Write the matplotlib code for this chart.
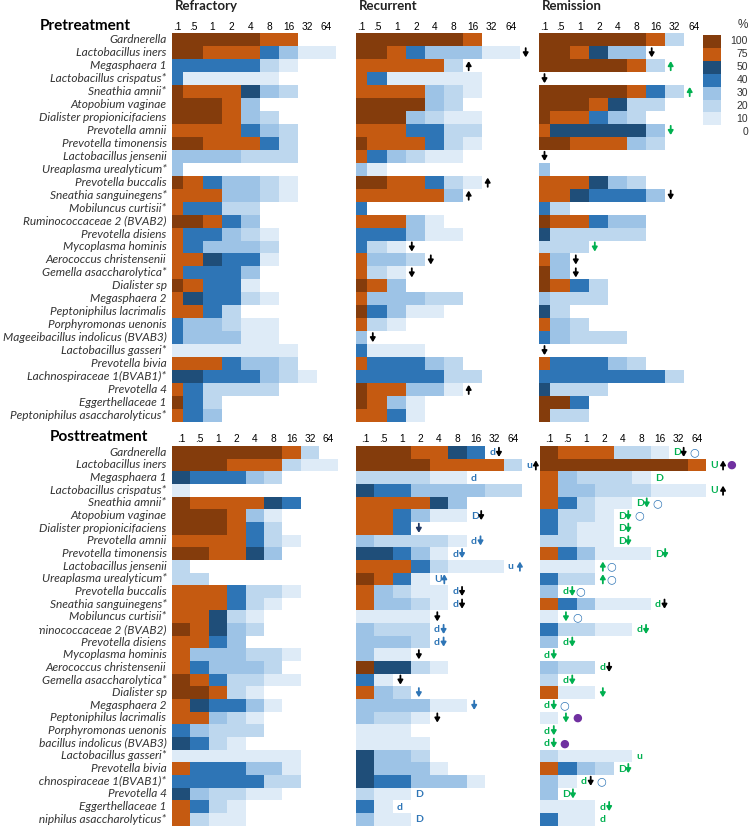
import numpy as np
import matplotlib
matplotlib.use('Agg')
import matplotlib.pyplot as plt
from matplotlib.colors import ListedColormap, BoundaryNorm
from matplotlib.patches import Rectangle

plt.rcParams['font.family'] = ['Lato', 'DejaVu Sans']

taxa = ['Gardnerella', 'Lactobacillus iners', 'Megasphaera 1', 'Lactobacillus crispatus*',
        'Sneathia amnii*', 'Atopobium vaginae', 'Dialister propionicifaciens', 'Prevotella amnii',
        'Prevotella timonensis', 'Lactobacillus jensenii', 'Ureaplasma urealyticum*',
        'Prevotella buccalis', 'Sneathia sanguinegens*', 'Mobiluncus curtisii*',
        'Ruminococcaceae 2 (BVAB2)', 'Prevotella disiens', 'Mycoplasma hominis',
        'Aerococcus christensenii', 'Gemella asaccharolytica*', 'Dialister sp', 'Megasphaera 2',
        'Peptoniphilus lacrimalis', 'Porphyromonas uenonis', 'Mageeibacillus indolicus (BVAB3)',
        'Lactobacillus gasseri*', 'Prevotella bivia', 'Lachnospiraceae 1(BVAB1)*', 'Prevotella 4',
        'Eggerthellaceae 1', 'Peptoniphilus asaccharolyticus*']
bins = ['.1', '.5', '1', '2', '4', '8', '16', '32', '64']
groups = ['Refractory', 'Recurrent', 'Remission']
legend_levels = [100, 75, 50, 40, 30, 20, 10, 0]

# one letter per cell: B=100 O=75 N=50 M=40 3=30 2=20 1=10 0=0 (%)
code_pct = {'B': 100, 'O': 75, 'N': 50, 'M': 40, '3': 30, '2': 20, '1': 10, '0': 0}

pre_refractory = ['BBBBBOO00', 'BBOOOM311', 'MMMMM2100', 'M11111000', 'BOOON3200', 'BBBO30000',
                  'BBBO32000', 'OOOOM3200', 'BBOOOM200', '333322200', '300000000', 'BOM332100',
                  'OOO332100', 'OMM220000', 'BBOM30000', 'OMM321000', 'OM3332000', 'OONMM1000',
                  'OMMM30000', 'BOMM10000', 'ONMM21000', 'OOM200000', 'M33211000', 'M33311000',
                  '111111100', 'OOOM33200', 'NNMMM3210', 'OM2222000', 'BM2000000', 'OM3000000']
pre_recurrent = ['BBBBBBO00', 'BBOM33311', 'OOOOO2000', 'OM1111100', 'OOOO32100', 'BBBB32000',
                 'BBB321100', 'OOOMM2200', 'BOOOM2100', 'OM3211000', '310000000', 'BBOOM2100',
                 'OOOOO3000', 'M00000000', 'OOO310000', 'MMM311000', 'M21000000', 'O33200000',
                 'O21000000', 'BO3000000', 'O33322000', 'BM3110000', 'O21000000', '300000000',
                 'M11100000', 'OMMM32000', 'MMMMM2200', 'BOO331000', 'BO3100000', 'OOM100000']
pre_remission = ['BBBBBBO20', 'BBON33000', 'BBBBBO200', '000000000', 'BBBBBOM20', 'BBBON2200',
                 'BOOM32000', 'ONNNNN300', 'BBOOO3200', '000000000', '300000000', 'OOON32000',
                 'OONMMM300', 'M20000000', 'BOOM33000', 'N22222000', '222000000', 'O30000000',
                 'B30000000', 'BOM200000', '322200000', 'N20000000', 'O32000000', 'M32220000',
                 '000000000', 'OMMM32000', 'MMMMMMM20', 'N22200000', 'BBM000000', 'B22000000']
post_refractory = ['BBBBBBO20', 'BBBOOO211', 'NMMM32000', '100000000', 'BOOOONM00', 'BBBO31000',
                   'BBBOM2000', 'OOOOM2100', 'BBOON3000', '200000000', '220000000', 'OOOM22100',
                   'OOOM21000', 'OON210000', 'BON320000', 'OOM300000', 'O33322100', 'OM3332000',
                   'BOM221100', 'BBO210000', 'ONMM31000', 'OO3210000', 'M32220000', 'NM2100000',
                   '111111100', 'OMMM33100', 'MMMMM2200', 'N32211000', 'OM2100000', 'O21100000']
post_recurrent = ['BBBOONM00', 'BBBBOOOO2', '222211000', 'NMM333322', 'OOOON3000', 'OOM311000',
                  'OOM000000', '322221000', 'NNM310000', 'OOOM21110', 'BOM100000', 'O32110000',
                  'O33210000', '111100000', '322200000', '333200000', '311000000', 'BNN210000',
                  'M10000000', 'O32000000', '333311000', '322100000', '111000000', '111100000',
                  'N33200000', 'N33310000', 'NMM333100', '211000000', 'M10000000', '311000000']
post_remission = ['BOOO22100', 'BBBBBBBBO', 'O32221000', 'O33222111', 'OM2110000', 'M22100000',
                  'M21100000', '221100000', 'OM3111000', '111000000', 'M22000000', '300000000',
                  'OM3111000', '100000000', 'M22110000', '300000000', '000000000', '322000000',
                  '200000000', 'O11000000', '000000000', '100000000', '000000000', '000000000',
                  '211110000', 'OM3200000', '310000000', '300000000', '111000000', 'M11000000']

# marks after the bars: row -> tokens (text, colour key)
pre_refractory_notes = {}
pre_recurrent_notes = {1: [('↓', 'k')], 2: [('↑', 'k')], 11: [('↑', 'k')], 12: [('↑', 'k')],
                       16: [('↓', 'k')], 17: [('↓', 'k')], 18: [('↓', 'k')], 23: [('↓', 'k')],
                       27: [('↑', 'k')]}
pre_remission_notes = {1: [('↓', 'k')], 2: [('↑', 'g')], 3: [('↓', 'k')], 4: [('↑', 'g')],
                       7: [('↓', 'g')], 9: [('↓', 'k')], 12: [('↓', 'k')], 16: [('↓', 'g')],
                       17: [('↓', 'k')], 18: [('↓', 'k')], 24: [('↓', 'k')]}
post_refractory_notes = {}
post_recurrent_notes = {0: [('d', 'b'), ('↓', 'k')], 1: [('u', 'b'), ('↑', 'k')], 2: [('d', 'b')],
                        5: [('D', 'b'), ('↓', 'k')], 6: [('↓', 'n')], 7: [('d', 'b'), ('↓', 'b')],
                        8: [('d', 'b'), ('↓', 'b')], 9: [('u', 'b'), (' ', 'b'), ('↑', 'b')],
                        10: [('U', 'b'), ('↑', 'b')], 11: [('d', 'b'), ('↓', 'k')],
                        12: [('d', 'b'), ('↓', 'k')], 13: [('↓', 'k')], 14: [('d', 'b'), ('↓', 'b')],
                        15: [('d', 'b'), ('↓', 'b')], 16: [('↓', 'k')], 18: [('↓', 'k')],
                        19: [('↓', 'b')], 20: [('↓', 'b')], 21: [('↓', 'k')],
                        27: [('D', 'b')], 28: [('d', 'b')], 29: [('D', 'b')]}
post_remission_notes = {0: [('D', 'g'), ('↓', 'k'), (' ', 'b'), ('○', 'b')],
                        1: [('U', 'g'), (' ', 'b'), ('↑', 'k'), ('●', 'p')],
                        2: [('D', 'g')], 3: [('U', 'g'), (' ', 'b'), ('↑', 'k')],
                        4: [('D', 'g'), ('↓', 'g'), (' ', 'b'), ('○', 'b')],
                        5: [('D', 'g'), ('↓', 'g'), (' ', 'b'), ('○', 'b')],
                        6: [('D', 'g'), ('↓', 'g')], 7: [('D', 'g'), ('↓', 'g')],
                        8: [('D', 'g'), ('↓', 'g')], 9: [('↑', 'g'), ('○', 'b')],
                        10: [('↑', 'g'), ('○', 'b')], 11: [('d', 'g'), ('↓', 'g'), ('○', 'b')],
                        12: [('d', 'g'), ('↓', 'k')], 13: [('↓', 'g'), (' ', 'b'), ('○', 'b')],
                        14: [('d', 'g'), ('↓', 'g')], 15: [('d', 'g'), ('↓', 'g')],
                        16: [('d', 'g'), ('↓', 'g')], 17: [('d', 'g'), ('↓', 'k')],
                        18: [('d', 'g'), ('↓', 'g')], 19: [('↓', 'g')],
                        20: [('d', 'g'), ('↓', 'g'), (' ', 'b'), ('○', 'b')],
                        21: [('↓', 'g'), (' ', 'b'), ('●', 'p')], 22: [('d', 'g'), ('↓', 'g')],
                        23: [('d', 'g'), ('↓', 'g'), (' ', 'b'), ('●', 'p')], 24: [('u', 'g')],
                        25: [('D', 'g'), ('↓', 'g')],
                        26: [('d', 'g'), ('↓', 'k'), (' ', 'b'), ('○', 'b')],
                        27: [('D', 'g'), ('↓', 'g')], 28: [('d', 'g'), ('↓', 'g')], 29: [('d', 'g')]}

note_colors = {'k': 'black', 'g': '#00B050', 'b': '#2E75B6', 'n': '#1F3864', 'p': '#7030A0'}
level_colors = ['#DEEBF7', '#BDD7EE', '#9DC3E6', '#2E75B6', '#1F4E79', '#C55A11', '#843C0C']
cmap = ListedColormap(level_colors)
norm = BoundaryNorm([5, 15, 25, 35, 45, 60, 90, 110], cmap.N)

fig = plt.figure(figsize=(7.5, 8.26), dpi=100)
ax = fig.add_axes([0, 0, 1, 1])
ax.set_xlim(0, 750)
ax.set_ylim(826, 0)
ax.axis('off')

sym_adv = {'↑': 7, '↓': 7, '○': 10, '●': 9}
arrow_style = '-|>,head_length=0.5,head_width=0.3'


def draw_group(rows, notes, x0, widths, y0, rh, tick_y, gap):
    vals = np.array([[code_pct[c] for c in r] for r in rows], dtype=float)
    xe = x0 + np.concatenate([[0], np.cumsum(widths)])
    ye = y0 + np.arange(len(rows) + 1) * rh
    ax.pcolormesh(xe, ye, np.ma.masked_equal(vals, 0), cmap=cmap, norm=norm)
    for xc, b in zip((xe[:-1] + xe[1:]) / 2, bins):
        ax.text(xc, tick_y, b, ha='center', va='center', fontsize=7.3,
                family='Liberation Sans')
    for i, toks in notes.items():
        nz = np.nonzero(vals[i])[0]
        x = (xe[nz[-1] + 1] if len(nz) else xe[0]) + gap
        yc = ye[i] + rh / 2
        for t, c in toks:
            if t == ' ':
                x += 2.5
                continue
            if t in '↑↓':
                s = 1 if t == '↓' else -1
                ax.annotate('', xy=(x + 3.5, yc + s * 4.6), xytext=(x + 3.5, yc - s * 4.6),
                            arrowprops=dict(arrowstyle=arrow_style, color=note_colors[c],
                                            lw=1.3, mutation_scale=5, shrinkA=0, shrinkB=0))
                x += sym_adv[t]
            elif t in sym_adv:
                ax.text(x, yc, t, ha='left', va='center', color=note_colors[c], fontsize=8,
                        fontweight='bold', family='DejaVu Sans')
                x += sym_adv[t]
            else:
                ax.text(x, yc + 0.5, t, ha='left', va='center', color=note_colors[c],
                        fontsize=7.5, fontweight='bold')
                x += 7 if t.isupper() else 6.3


pre_w = [11.3, 20, 19, 19, 19, 18.9, 19, 19, 19]
post_w = [18.45] * 9
pre_x = [171.7, 356, 539]
post_x = [171.7, 356, 540]
pre_y0, pre_rh = 33.3, 12.95
post_y0, post_rh = 446.0, 12.65

pre_sets = [(pre_refractory, pre_refractory_notes), (pre_recurrent, pre_recurrent_notes),
            (pre_remission, pre_remission_notes)]
post_sets = [(post_refractory, post_refractory_notes), (post_recurrent, post_recurrent_notes),
             (post_remission, post_remission_notes)]

for k in range(3):
    draw_group(pre_sets[k][0], pre_sets[k][1], pre_x[k], pre_w, pre_y0, pre_rh, 27.3, 2)
    draw_group(post_sets[k][0], post_sets[k][1], post_x[k], post_w, post_y0, post_rh, 439, 4)
    ax.text(pre_x[k] + 3, 6.5, groups[k], ha='left', va='center', fontsize=9.5,
            fontweight='bold', color='#222222')

ax.text(40, 26, 'Pretreatment', ha='left', va='center', fontsize=11, fontweight='bold')
ax.text(50, 437, 'Posttreatment', ha='left', va='center', fontsize=11, fontweight='bold')

# taxon names; the lower block is cut at the left
clip = Rectangle((39, 440), 140, 390, transform=ax.transData)
for i, name in enumerate(taxa):
    ax.text(166.5, pre_y0 + (i + 0.5) * pre_rh, name, ha='right', va='center', fontsize=8.6,
            style='italic', color='#333333')
    t = ax.text(166.5, post_y0 + (i + 0.5) * post_rh, name, ha='right', va='center',
                fontsize=8.6, style='italic', color='#333333', clip_on=True)
    t.set_clip_path(clip)

# legend
leg = np.array(legend_levels, dtype=float).reshape(-1, 1)
ly = 35 + np.arange(len(legend_levels) + 1) * 12.9
ax.pcolormesh([702.7, 721], ly, np.ma.masked_equal(leg, 0), cmap=cmap, norm=norm)
for j, v in enumerate(legend_levels):
    ax.text(748, ly[j] + 6.45, str(v), ha='right', va='center', fontsize=7.5, color='#333333',
            family='Liberation Sans')
ax.text(743, 25, '%', ha='center', va='center', fontsize=8.5, color='#333333',
        family='Liberation Sans')

fig.savefig('out.png', dpi=100)
